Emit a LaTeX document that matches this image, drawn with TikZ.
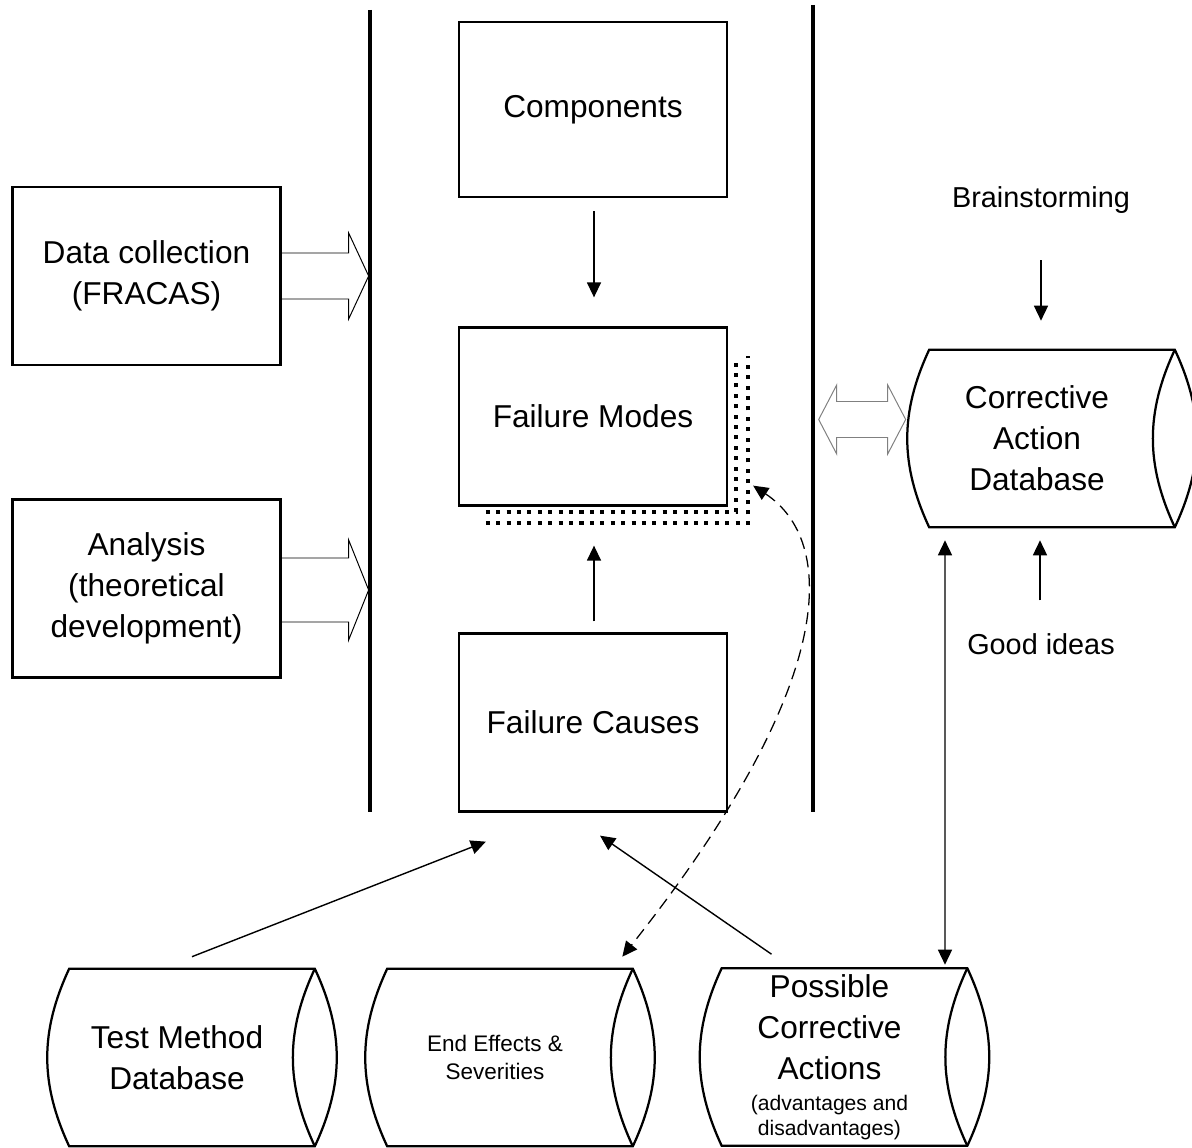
\documentclass[tikz,border=0pt]{standalone}
\usepackage{fontspec}
\setmainfont{Liberation Sans}
\usetikzlibrary{arrows.meta,calc}
\newcommand\pcasmall{\fontsize{15}{17}\selectfont}

\begin{document}
\begin{tikzpicture}[x=0.025cm,y=-0.025cm,
  box/.style={draw,line width=1.6pt,minimum width=6.7cm,minimum height=4.45cm,align=center,font=\fontsize{22.5}{29.2}\selectfont},
  dbcyl/.style={minimum width=6.125cm,minimum height=4.425cm,inner sep=0pt,align=center,font=\fontsize{22.5}{29.2}\selectfont},
  note/.style={font=\fontsize{20.5}{24}\selectfont},
  bar/.style={line width=2.6pt},
  outline/.style={line width=1.6pt},
  arr/.style={line width=1pt,-{Triangle[length=10.7pt,width=10pt]}},
  arrboth/.style={line width=1pt,{Triangle[length=10.7pt,width=10pt]}-{Triangle[length=10.7pt,width=10pt]}},
  dasharr/.style={line width=0.9pt,dash pattern=on 8.5pt off 5pt,{Triangle[length=10.7pt,width=10pt]}-{Triangle[length=10.7pt,width=10pt]}},
  blockarr/.style={line width=0.7pt,line join=miter},
  shadowdots/.style={line width=2.85pt,dash pattern=on 2.85pt off 4.55pt}]
\useasboundingbox (0,0) rectangle (1192,1148);

% middle column
\node[box,minimum height=4.375cm] at (593,109.5) (comp) {Components};
\node[box] at (593,416.5) (fm) {Failure Modes};
\node[box] at (593,722.5) (fc) {Failure Causes};

% sources on the left
\node[box] at (146.5,276) (dc) {Data collection\\(FRACAS)};
\node[box] at (146.5,588.5) (ana) {Analysis\\(theoretical\\development)};

% databases
\node[dbcyl] at (177,1057.5) (tm) {Test Method\\Database};
\node[dbcyl,font=\fontsize{16}{20.4}\selectfont] at (495,1057.5) (ee) {End Effects \&\\Severities};
\node[dbcyl] at (829.5,1057) (pca) {Possible\\Corrective\\Actions\\[-7pt]{\pcasmall (advantages and}\\[-12pt]{\pcasmall disadvantages)}};
\node[dbcyl] at (1037,438.5) (cad) {Corrective\\Action\\Database};

\node[note] at (1041,200) (bs) {Brainstorming};
\node[note] at (1041,644) (gi) {Good ideas};

\foreach \n in {tm,ee,pca,cad}{
  \draw[outline] ($(\n.north west)+(15,0)$) to[bend right=25] ($(\n.south west)+(15,0)$)
    -- ($(\n.south east)+(15,0)$) coordinate (c) to[bend right=25] ($(\n.north east)+(15,0)$) coordinate (d) -- cycle;
  \draw[outline] (d) to[bend right=25] (c);
}

% shadow of failure modes
\draw[shadowdots] ($(fm.south west)+(28,5)$) -- ($(fm.south east)+(8,5)$) -- ($(fm.north east)+(8,30)$);
\draw[shadowdots] ($(fm.south west)+(28,16)$) -- ($(fm.south east)+(20,16)$) -- ($(fm.north east)+(20,30)$);

\draw[bar] (370,10) -- (370,812);
\draw[bar] (813,5) -- (813,812);

\draw[blockarr] ($(dc.east)+(0,-23)$) -- ++(67,0) -- ++(0,-20) -- ++(20,43) -- ++(-20,43) -- ++(0,-20) -- ++(-67,0);
\draw[blockarr] ($(ana.east)+(0,-30.5)$) -- ++(67,0) -- ++(0,-18) -- ++(20,50) -- ++(-20,50) -- ++(0,-18) -- ++(-67,0);
\draw[blockarr,gray] ($(cad.west)+(-8.5,-19)$) -- ++(-18,-34.5) -- ++(0,16.5) -- ++(-51,0) -- ++(0,-16.5) -- ++(-18,34.5)
  -- ++(18,34.5) -- ++(0,-16.5) -- ++(51,0) -- ++(0,16.5) -- cycle;

\draw[arr] ($(comp.south)+(1,13)$) -- ($(fm.north)+(1,-29)$);
\draw[arr] ($(fc.north)+(1,-11)$) -- ($(fm.south)+(1,39)$);
\draw[arr] ($(tm.north)+(15,-12)$) -- ($(fc.south west)+(28,29)$);
\draw[arr] ($(pca.north)+(-58,-14)$) -- ($(fc.south)+(7,23)$);
\draw[arr] ($(bs.south)+(0,42)$) -- ($(cad.north)+(4,-29)$);
\draw[arr] ($(gi.north)+(-1,-28)$) -- ($(cad.south)+(3,13)$);
\draw[arrboth] ($(cad.south)+(-92,13)$) -- ($(pca.north)+(115.5,-3.5)$);
\draw[dasharr] ($(fm.south east)+(25,-21)$) .. controls ($(fm.south east)+(108,34)$) and ($(fm.south east)+(113,174)$) .. ($(ee.north east)+(4.5,-12)$);
\end{tikzpicture}
\end{document}
